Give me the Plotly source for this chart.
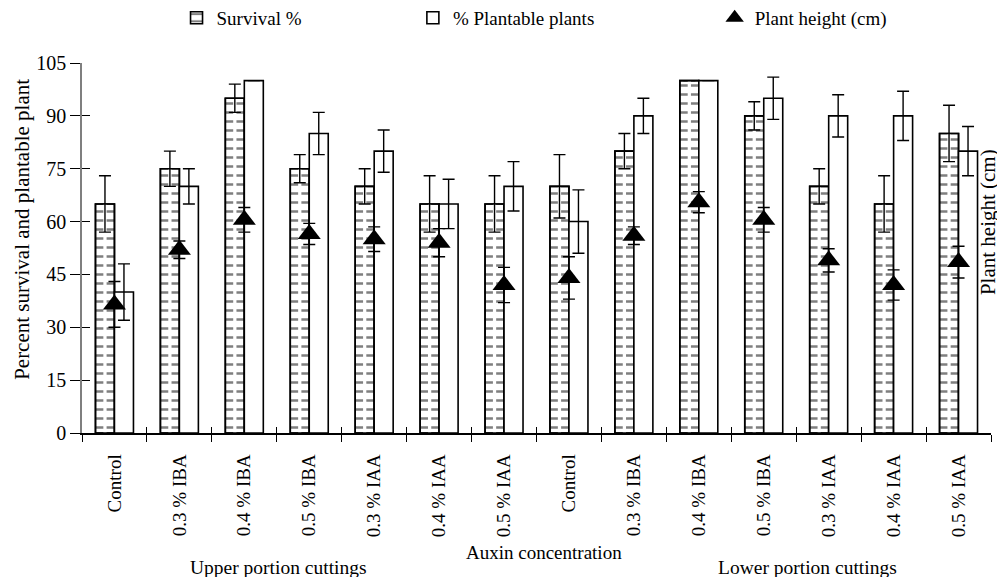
import plotly.graph_objects as go

# ---------------- data ----------------
treatments = ["Control", "0.3 % IBA", "0.4 % IBA", "0.5 % IBA", "0.3 % IAA", "0.4 % IAA", "0.5 % IAA"]
tick_labels = treatments + treatments          # upper portion cuttings, then lower portion cuttings
positions = list(range(len(tick_labels)))

survival = [65, 75, 95, 75, 70, 65, 65, 70, 80, 100, 90, 70, 65, 85]
survival_err = [8, 5, 4, 4, 5, 8, 8, 9, 5, 0, 4, 5, 8, 8]
plantable = [40, 70, 100, 85, 80, 65, 70, 60, 90, 100, 95, 90, 90, 80]
plantable_err = [8, 5, 0, 6, 6, 7, 7, 9, 5, 0, 6, 6, 7, 7]
plant_height = [36.5, 52, 60.5, 56.5, 55, 54, 42, 44, 56, 65.5, 60.5, 49, 42, 48.5]
plant_height_err = [6.5, 2.5, 3.5, 3, 3.5, 4, 5, 6, 2.5, 3, 3.5, 3.3, 4.3, 4.5]

y_ticks = [0, 15, 30, 45, 60, 75, 90, 105]
y_range = [0, 105]

FONT = "Liberation Serif"
FS = 19
BAR_W = 0.2925      # width of one bar, in category units
GAP_W = 0.05        # blank strip in the middle of the dashed bars

def err(arr):
    return dict(type="data", array=arr, visible=True, color="black", thickness=1.4, width=6)

OUTLINE = dict(color="black", width=1.6)

fig = go.Figure()
# survival: dashed fill
fig.add_trace(go.Bar(
    x=positions, y=survival, name="Survival %", offset=-BAR_W, width=BAR_W,
    marker=dict(color="white", line=OUTLINE,
                pattern=dict(shape="-", fgcolor="black", bgcolor="white", size=9, solidity=0.28)),
    legend="legend", hoverinfo="skip"))
# survival: blank strip between the left and right dashes
fig.add_trace(go.Bar(
    x=positions, y=survival, offset=-BAR_W / 2 - GAP_W / 2, width=GAP_W,
    marker=dict(color="white", line=dict(width=0)), showlegend=False, hoverinfo="skip"))
# survival: outline + error bars on top
fig.add_trace(go.Bar(
    x=positions, y=survival, name="Survival %", offset=-BAR_W, width=BAR_W,
    marker=dict(color="rgba(0,0,0,0)", line=OUTLINE),
    error_y=err(survival_err), showlegend=False))
fig.add_trace(go.Bar(
    x=positions, y=plantable, name="% Plantable plants", offset=0, width=BAR_W,
    marker=dict(color="white", line=OUTLINE),
    error_y=err(plantable_err), legend="legend2"))
# plant height on the overlaid axes (same ranges), which also carry the inner half of the crossing ticks
fig.add_trace(go.Scatter(
    x=positions, y=plant_height, name="Plant height (cm)", mode="markers",
    xaxis="x2", yaxis="y2",
    marker=dict(symbol="triangle-up", size=20, color="black"),
    error_y=err(plant_height_err), legend="legend3"))

leg_common = dict(orientation="h", xanchor="left", yanchor="middle", y=1.122,
                  bgcolor="rgba(0,0,0,0)", font=dict(family=FONT, size=FS, color="black"),
                  itemwidth=30)

boundaries = [p - 0.5 for p in positions] + [positions[-1] + 0.5]
x_range = [-0.5, len(positions) - 0.5]

# the page body has an 8px margin; the figure fills the rest of the window
fig.update_layout(
    width=997, height=569,
    margin=dict(l=74, r=14, t=55, b=144, autoexpand=False),
    paper_bgcolor="white", plot_bgcolor="white",
    font=dict(family=FONT, size=FS, color="black"),
    barmode="overlay",
    showlegend=True,
    legend=dict(x=0.104, **leg_common),
    legend2=dict(x=0.364, **leg_common),
    legend3=dict(x=0.696, **leg_common),
    xaxis=dict(
        range=x_range,
        tickmode="array", tickvals=positions, ticktext=tick_labels,
        tickangle=-90, ticks="", ticklabelstandoff=12,
        showline=True, linecolor="black", linewidth=1.5,
        showgrid=False, zeroline=False, automargin=False,
        minor=dict(tickmode="array", tickvals=boundaries,
                   ticks="outside", ticklen=7, tickcolor="black", tickwidth=1.2, showgrid=False),
        tickfont=dict(family=FONT, size=FS, color="black"),
    ),
    xaxis2=dict(
        overlaying="x", anchor="y2", side="bottom", range=x_range,
        showticklabels=False, showline=False, showgrid=False, zeroline=False,
        tickmode="array", tickvals=boundaries, ticks="inside", ticklen=6,
        tickcolor="black", tickwidth=1.2, automargin=False,
    ),
    yaxis=dict(
        range=y_range, tickmode="array", tickvals=y_ticks,
        ticks="outside", ticklen=10, tickcolor="black", tickwidth=1.2,
        showline=True, linecolor="#7f7f7f", linewidth=1.5,
        showgrid=False, zeroline=False, automargin=False,
        tickfont=dict(family=FONT, size=20, color="black"),
    ),
    yaxis2=dict(
        overlaying="y", anchor="x2", side="left", range=y_range,
        showticklabels=False, showline=False, showgrid=False, zeroline=False,
        tickmode="array", tickvals=y_ticks, ticks="inside", ticklen=8,
        tickcolor="black", tickwidth=1.2, automargin=False,
    ),
    annotations=[
        dict(text="Percent survival and plantable plant", xref="paper", yref="paper",
             x=0, y=0.549, xshift=-60, textangle=-90, showarrow=False,
             xanchor="center", yanchor="middle", font=dict(family=FONT, size=21)),
        dict(text="Plant height (cm)", xref="paper", yref="paper",
             x=1, y=0.57, xshift=-3, textangle=-90, showarrow=False,
             xanchor="center", yanchor="middle", font=dict(family=FONT, size=21)),
        dict(text="Auxin concentration", xref="x", yref="paper",
             x=6.62, y=0, yshift=-119, showarrow=False,
             xanchor="center", yanchor="middle", font=dict(family=FONT, size=FS)),
        dict(text="Upper portion cuttings", xref="x", yref="paper",
             x=2.52, y=0, yshift=-134, showarrow=False,
             xanchor="center", yanchor="middle", font=dict(family=FONT, size=19.5)),
        dict(text="Lower portion cuttings", xref="x", yref="paper",
             x=10.67, y=0, yshift=-134, showarrow=False,
             xanchor="center", yanchor="middle", font=dict(family=FONT, size=19.5)),
    ],
)

fig.write_html("out.html")
